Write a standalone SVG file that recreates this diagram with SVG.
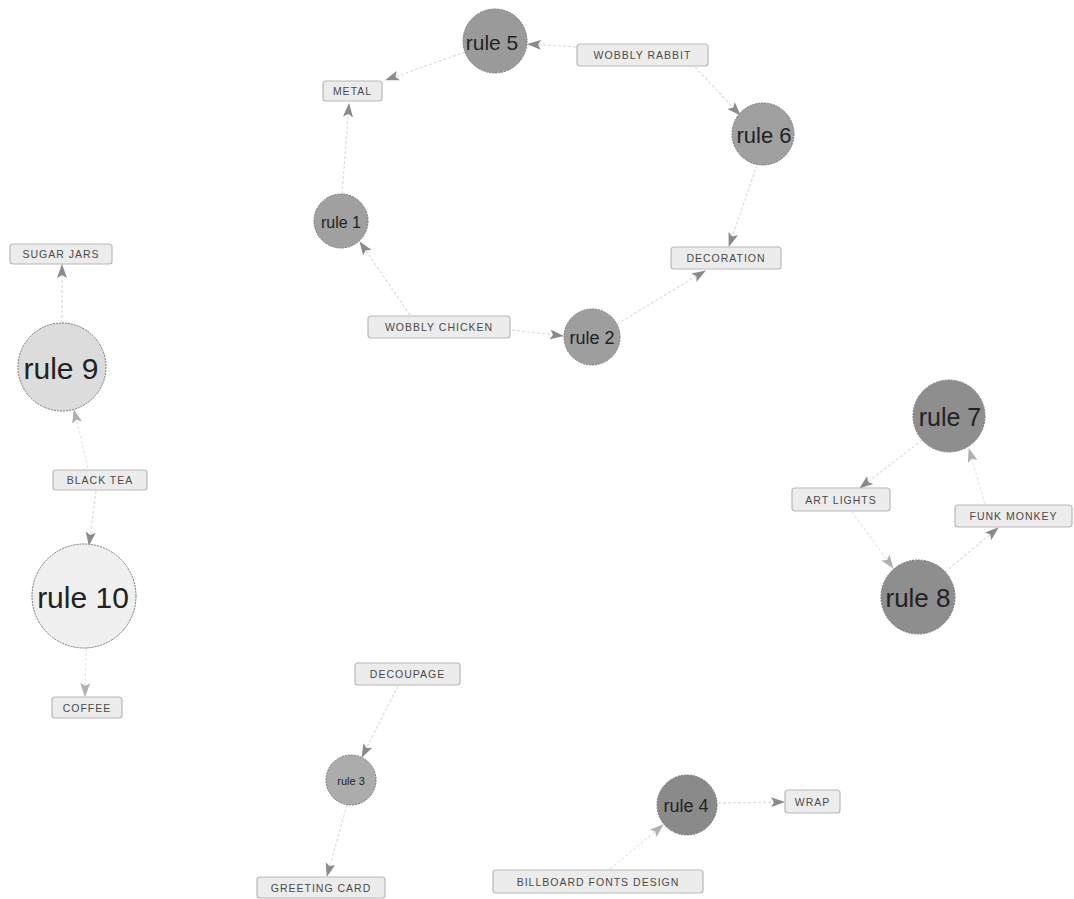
<svg xmlns="http://www.w3.org/2000/svg" width="1074" height="899" viewBox="0 0 1074 899">
<defs>
<marker id="arr" markerWidth="14" markerHeight="10" refX="13" refY="5" orient="auto" markerUnits="userSpaceOnUse">
<path d="M0,0 L14,5 L0,10 L3,5 Z" fill="#8a8a8a"/>
</marker>
<marker id="arrl" markerWidth="14" markerHeight="10" refX="13" refY="5" orient="auto" markerUnits="userSpaceOnUse">
<path d="M0,0 L14,5 L0,10 L3,5 Z" fill="#b0b0b0"/>
</marker>
</defs>
<style>
.e{stroke:#dcdcdc;stroke-width:1.2;fill:none;stroke-dasharray:3 2;marker-end:url(#arr)}
.el{stroke:#e6e6e6;stroke-width:1.2;fill:none;stroke-dasharray:3 2;marker-end:url(#arrl)}
.lb rect{fill:#ececec;stroke:#b8b8b8;stroke-width:1.2}
.lb text{font-family:"Liberation Sans",Arial,sans-serif;font-size:10.5px;letter-spacing:1px;fill:#4a4a4a;text-anchor:middle;dominant-baseline:central}
.rn circle{stroke:#777;stroke-width:1;stroke-dasharray:2 1}
.rn text{font-family:"Liberation Sans",Arial,sans-serif;fill:#222;text-anchor:middle;dominant-baseline:central}
</style>
<rect width="1074" height="899" fill="#fff"/>
<g id="connectors">
<line class="e" x1="465" y1="52" x2="386" y2="80"/>
<line class="e" x1="576" y1="47" x2="528" y2="44"/>
<line class="e" x1="695" y1="67" x2="740" y2="115"/>
<line class="e" x1="342" y1="194" x2="349" y2="104"/>
<line class="e" x1="410" y1="315" x2="360" y2="242"/>
<line class="e" x1="512" y1="330" x2="563" y2="336"/>
<line class="e" x1="617" y1="324" x2="705" y2="271"/>
<line class="e" x1="757" y1="165" x2="729" y2="246"/>
<line class="e" x1="62" y1="323" x2="62" y2="265"/>
<line class="el" x1="88" y1="468" x2="74" y2="410"/>
<line class="e" x1="96" y1="491" x2="89" y2="545"/>
<line class="el" x1="86" y1="648" x2="85" y2="696"/>
<line class="e" x1="922" y1="440" x2="860" y2="488"/>
<line class="el" x1="852" y1="512" x2="893" y2="568"/>
<line class="e" x1="945" y1="572" x2="998" y2="528"/>
<line class="el" x1="985" y1="504" x2="969" y2="449"/>
<line class="e" x1="398" y1="686" x2="362" y2="757"/>
<line class="e" x1="347" y1="805" x2="327" y2="876"/>
<line class="e" x1="718" y1="803" x2="784" y2="802"/>
<line class="el" x1="610" y1="869" x2="663" y2="825"/>
</g>
<g id="rule5" class="rn"><circle cx="495" cy="41" r="32" fill="#9a9a9a"/><text x="492" y="42" font-size="21">rule 5</text></g>
<g id="rule6" class="rn"><circle cx="763" cy="134" r="31" fill="#a0a0a0"/><text x="764" y="135" font-size="22">rule 6</text></g>
<g id="rule1" class="rn"><circle cx="341" cy="221" r="27" fill="#a0a0a0"/><text x="341" y="222" font-size="16">rule 1</text></g>
<g id="rule2" class="rn"><circle cx="592" cy="337" r="28" fill="#9e9e9e"/><text x="592" y="338" font-size="18">rule 2</text></g>
<g id="rule9" class="rn"><circle cx="62" cy="367" r="44" fill="#dcdcdc"/><text x="61" y="368" font-size="30">rule 9</text></g>
<g id="rule10" class="rn"><circle cx="84" cy="596" r="52" fill="#f0f0f0"/><text x="83" y="597" font-size="30">rule 10</text></g>
<g id="rule7" class="rn"><circle cx="949" cy="416" r="36" fill="#8e8e8e"/><text x="950" y="417" font-size="25">rule 7</text></g>
<g id="rule8" class="rn"><circle cx="918" cy="597" r="37" fill="#8e8e8e"/><text x="918" y="598" font-size="26">rule 8</text></g>
<g id="rule3" class="rn"><circle cx="351" cy="780" r="25" fill="#acacac"/><text x="351" y="781" font-size="11">rule 3</text></g>
<g id="rule4" class="rn"><circle cx="687" cy="805" r="30" fill="#8a8a8a"/><text x="686" y="806" font-size="18">rule 4</text></g>
<g id="metal" class="lb"><rect x="323" y="81" width="59" height="20" rx="3"/><text x="352.5" y="91">METAL</text></g>
<g id="wobbly-rabbit" class="lb"><rect x="577" y="44" width="131" height="22" rx="3"/><text x="642.5" y="55">WOBBLY RABBIT</text></g>
<g id="wobbly-chicken" class="lb"><rect x="368" y="316" width="142" height="22" rx="3"/><text x="439" y="327">WOBBLY CHICKEN</text></g>
<g id="decoration" class="lb"><rect x="671" y="247" width="110" height="22" rx="3"/><text x="726" y="258">DECORATION</text></g>
<g id="sugar-jars" class="lb"><rect x="10" y="244" width="102" height="20" rx="3"/><text x="61" y="254">SUGAR JARS</text></g>
<g id="black-tea" class="lb"><rect x="53" y="470" width="94" height="20" rx="3"/><text x="100" y="480">BLACK TEA</text></g>
<g id="coffee" class="lb"><rect x="52" y="697" width="70" height="21" rx="3"/><text x="87" y="707.5">COFFEE</text></g>
<g id="art-lights" class="lb"><rect x="792" y="488" width="98" height="23" rx="3"/><text x="841" y="499.5">ART LIGHTS</text></g>
<g id="funk-monkey" class="lb"><rect x="955" y="505" width="117" height="22" rx="3"/><text x="1013.5" y="516">FUNK MONKEY</text></g>
<g id="decoupage" class="lb"><rect x="355" y="663" width="105" height="22" rx="3"/><text x="407.5" y="674">DECOUPAGE</text></g>
<g id="greeting-card" class="lb"><rect x="257" y="877" width="128" height="21" rx="3"/><text x="321" y="887.5">GREETING CARD</text></g>
<g id="billboard" class="lb"><rect x="493" y="870" width="210" height="23" rx="3"/><text x="598" y="881.5">BILLBOARD FONTS DESIGN</text></g>
<g id="wrap" class="lb"><rect x="785" y="790" width="55" height="23" rx="3"/><text x="812.5" y="801.5">WRAP</text></g>
</svg>
